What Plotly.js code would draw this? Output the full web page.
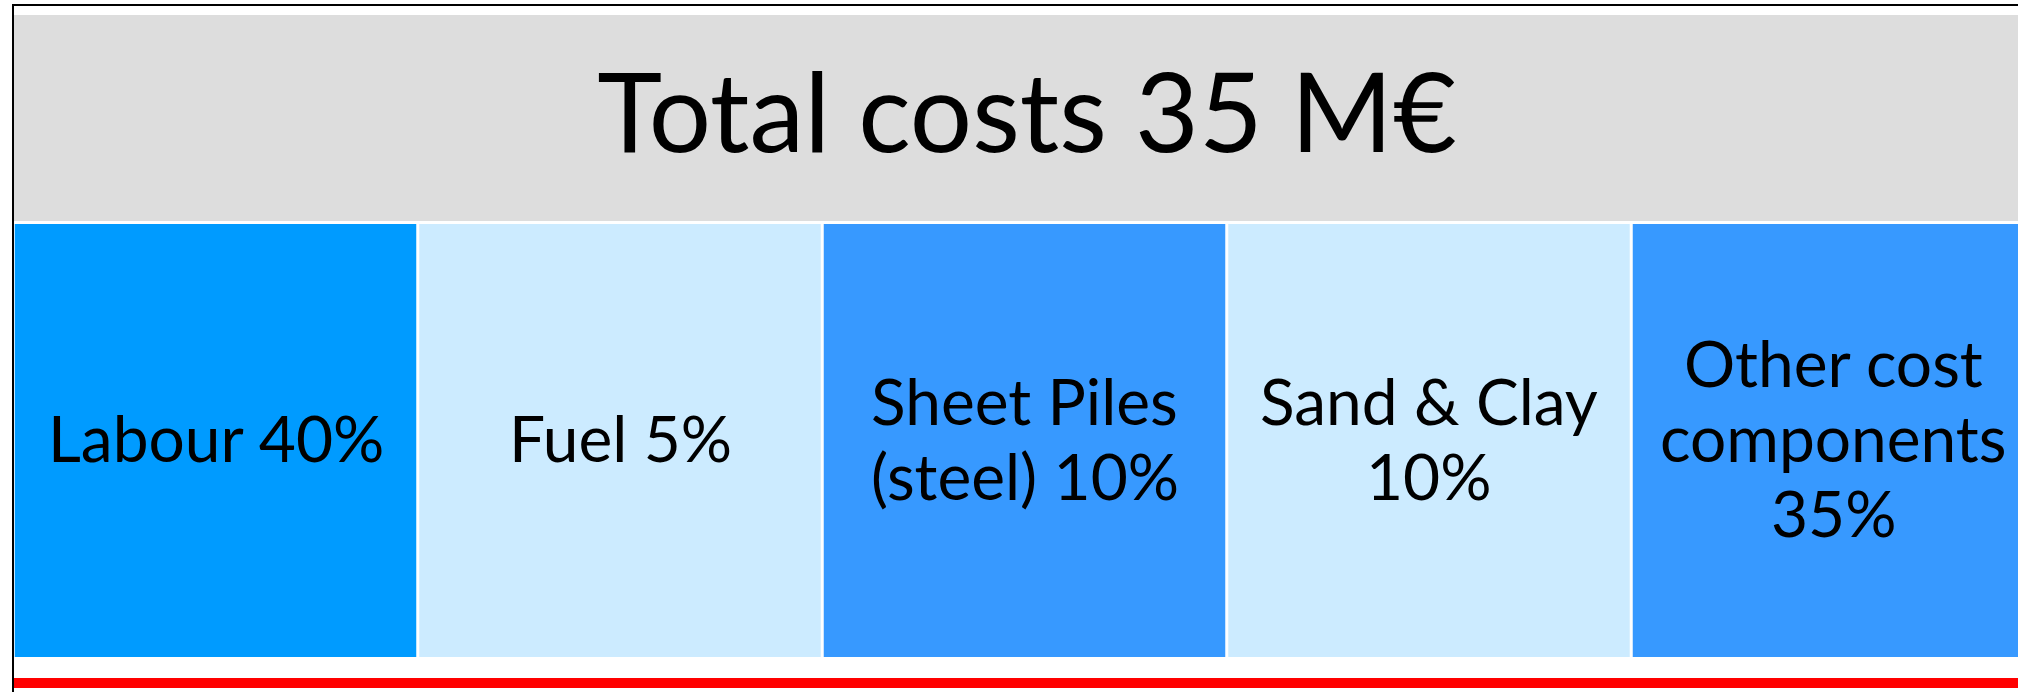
<!DOCTYPE html>
<html>
<head>
<meta charset="utf-8">
<script src="https://cdn.plot.ly/plotly-3.0.1.min.js"></script>
<style>html,body{margin:0;padding:0;background:#fff;}#chart{width:2018px;height:692px;}</style>
</head>
<body>
<div id="chart"></div>
<script>
// ---- data ----
const totalCost = 35;          // M€
const currency = "M€";
const categories = ["Labour", "Fuel", "Sheet Piles", "Sand & Clay", "Other cost components"];
const labelLines = [["Labour 40%"], ["Fuel 5%"], ["Sheet Piles", "(steel) 10%"], ["Sand & Clay", "10%"], ["Other cost", "components", "35%"]];
const shares = [40, 5, 10, 10, 35];   // percent of total
const tileColors = ["#009BFF", "#CCEBFF", "#3799FF", "#CCEBFF", "#3799FF"];

const W = 2018, H = 692;
const fontFam = "Lato, 'Open Sans', sans-serif";
const lineGap = 75;   // px between text lines

const trace = {
  type: "bar",
  x: categories,
  y: categories.map(() => 1),
  customdata: shares,
  marker: {color: tileColors, line: {width: 0}},
  hovertemplate: "%{x}: %{customdata}%<extra></extra>",
  cliponaxis: true
};

const px = v => v / W;
const py = v => 1 - v / H;

const annotations = [];
categories.forEach((c, k) => {
  const lines = labelLines[k];
  const n = lines.length;
  lines.forEach((t, i) => {
    annotations.push({
      x: c, y: 0.5, xref: "x", yref: "y",
      text: t, showarrow: false,
      xanchor: "center", yanchor: "middle",
      yshift: ((n - 1) / 2 - i) * lineGap + 3,
      font: {family: fontFam, size: 64, color: "#000000"}
    });
  });
});

const layout = {
  width: W, height: H,
  margin: {l: 0, r: 0, t: 0, b: 0, pad: 0},
  paper_bgcolor: "#ffffff",
  plot_bgcolor: "rgba(0,0,0,0)",
  showlegend: false,
  bargap: 3 / 404.5,
  title: {
    text: "Total costs " + totalCost + " " + currency,
    x: 1027 / W, xanchor: "center", xref: "paper",
    y: py(113), yanchor: "middle", yref: "container",
    font: {family: fontFam, size: 110, color: "#000000"}
  },
  xaxis: {visible: false, range: [-215.5 / 404.5, (W - 215.5) / 404.5], fixedrange: true, type: "category"},
  yaxis: {visible: false, range: [-35 / 433, 1 + 224 / 433], fixedrange: true},
  annotations: annotations,
  shapes: [
    {type: "rect", xref: "paper", yref: "paper", x0: px(14), x1: 1, y0: py(221), y1: py(15), fillcolor: "#DDDDDD", line: {width: 0}, layer: "below"},
    {type: "rect", xref: "paper", yref: "paper", x0: px(14), x1: 1, y0: py(688), y1: py(678), fillcolor: "#FF0000", line: {width: 0}, layer: "above"},
    {type: "rect", xref: "paper", yref: "paper", x0: px(12), x1: 1, y0: py(6), y1: py(4), fillcolor: "#000000", line: {width: 0}, layer: "above"},
    {type: "rect", xref: "paper", yref: "paper", x0: px(12), x1: px(14), y0: 0, y1: py(4), fillcolor: "#000000", line: {width: 0}, layer: "above"}
  ]
};

Plotly.newPlot("chart", [trace], layout, {displayModeBar: false, staticPlot: true});
</script>
</body>
</html>
